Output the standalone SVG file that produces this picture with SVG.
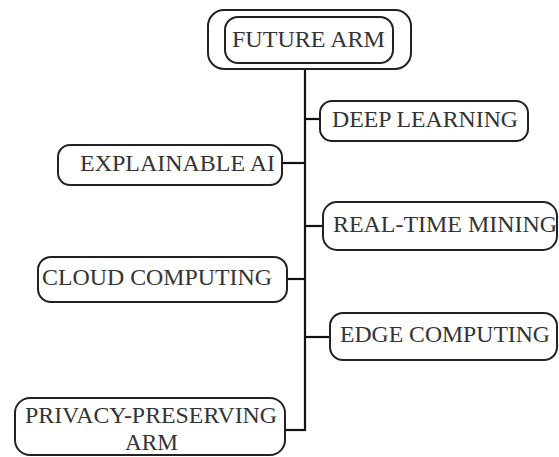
<svg xmlns="http://www.w3.org/2000/svg" width="559" height="457" viewBox="0 0 559 457">
<style>
.box{fill:#fff;stroke:#222;stroke-width:2}
.lbl{font-family:"Liberation Serif","DejaVu Serif",serif;font-size:24px;fill:#333;text-anchor:middle}
.ln{stroke:#111;stroke-width:2.2;fill:none}
</style>
<rect width="559" height="457" fill="#fff"/>
<g id="connectors">
<line class="ln" x1="305" y1="69" x2="305" y2="431"/>
<line class="ln" x1="305" y1="119" x2="320" y2="119"/>
<line class="ln" x1="282" y1="163" x2="305" y2="163"/>
<line class="ln" x1="305" y1="226" x2="323" y2="226"/>
<line class="ln" x1="287" y1="279" x2="305" y2="279"/>
<line class="ln" x1="305" y1="337" x2="330" y2="337"/>
<line class="ln" x1="285" y1="430" x2="305" y2="430"/>
</g>
<g id="future-arm">
<rect class="box" x="208" y="10" width="203" height="59" rx="16"/>
<rect class="box" x="225" y="17" width="168" height="46" rx="13"/>
<text class="lbl" x="308.5" y="47" textLength="153" lengthAdjust="spacingAndGlyphs">FUTURE ARM</text>
</g>
<g id="deep-learning">
<rect class="box" x="320" y="101" width="208" height="40" rx="12"/>
<text class="lbl" x="425" y="127" textLength="186" lengthAdjust="spacingAndGlyphs">DEEP LEARNING</text>
</g>
<g id="explainable-ai">
<rect class="box" x="58" y="145" width="224" height="40" rx="12"/>
<text class="lbl" x="177.5" y="171" textLength="195" lengthAdjust="spacingAndGlyphs">EXPLAINABLE AI</text>
</g>
<g id="real-time-mining">
<rect class="box" x="323" y="202" width="234" height="48" rx="14"/>
<text class="lbl" x="445" y="232" textLength="224" lengthAdjust="spacingAndGlyphs">REAL-TIME MINING</text>
</g>
<g id="cloud-computing">
<rect class="box" x="38" y="257" width="249" height="45" rx="13"/>
<text class="lbl" x="157" y="285" textLength="230" lengthAdjust="spacingAndGlyphs">CLOUD COMPUTING</text>
</g>
<g id="edge-computing">
<rect class="box" x="330" y="313" width="227" height="47" rx="13"/>
<text class="lbl" x="445" y="342" textLength="210" lengthAdjust="spacingAndGlyphs">EDGE COMPUTING</text>
</g>
<g id="privacy-preserving-arm">
<rect class="box" x="15" y="398" width="270" height="57" rx="15"/>
<text class="lbl" x="151" y="423" textLength="252" lengthAdjust="spacingAndGlyphs">PRIVACY-PRESERVING</text>
<text class="lbl" x="151.5" y="450" textLength="53" lengthAdjust="spacingAndGlyphs">ARM</text>
</g>
</svg>
